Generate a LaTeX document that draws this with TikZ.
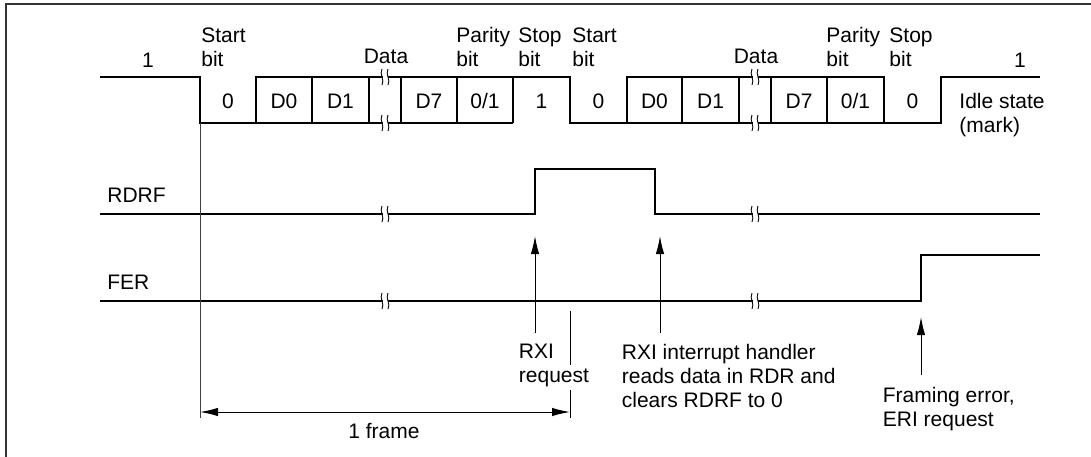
\documentclass[tikz,border=0pt]{standalone}
\usepackage{fontspec}
\setmainfont{Liberation Sans}
\usetikzlibrary{arrows.meta}

\begin{document}
\begin{tikzpicture}[x=0.5pt, y=-0.5pt,
    font=\fontsize{10.5}{12}\selectfont,
    sig/.style={line width=0.75pt},
    lbl/.style={inner sep=0pt, align=left, anchor=north west},
    bitlbl/.style={inner sep=0pt, anchor=base},
    req/.style={line width=0.5pt, -{Latex[length=9pt,width=4.2pt]}},
    brk/.pic={
      \fill[white] (-2.5,-8) rectangle (2.5,8);
      \draw[line width=0.45pt] (-3,-8) .. controls (-6,-3) and (0,3) .. (-3,8);
      \draw[line width=0.45pt] (3,-8) .. controls (0,-3) and (6,3) .. (3,8);
    }]
    \useasboundingbox (0,0) rectangle (1091,456);
    \clip (0,0) rectangle (1091,456);
    \draw[line width=0.9pt, black!80] (6,4) rectangle (1100,470);

    % received serial data
    \draw[sig] (100,77) -| (200,123) -| (256,77) -| (570,123) -| (627,77) -| (884,123) -| (941,77) -- (1040,77);
    \draw[sig] (256,123) -- (513,123) (627,123) -- (884,123);
    \foreach \x in {312,369,401,457,513,682,739,771,827}
        \draw[sig] (\x,77) -- (\x,123);
    \foreach \x/\t in {228/0, 284/D0, 340.5/D1, 429/D7, 485/{0/1}, 541.5/1,
                       598.5/0, 654.5/D0, 710.5/D1, 799/D7, 855.5/{0/1}, 912.5/0}
        \node[bitlbl] at (\x,108) {\t};

    % bit names
    \node[bitlbl] (idle1) at (148,67) {1};
    \node[lbl] (start1) at (201,27) {Start\\bit};
    \node[bitlbl] (data1) at (386,63) {Data};
    \node[lbl] (par1) at (456,27) {Parity\\bit};
    \node[lbl] (stop1) at (518,27) {Stop\\bit};
    \node[lbl] (start2) at (572,27) {Start\\bit};
    \node[bitlbl] (data2) at (756,63) {Data};
    \node[lbl] (par2) at (826,27) {Parity\\bit};
    \node[lbl] (stop2) at (889,27) {Stop\\bit};
    \node[bitlbl] (idle2) at (1020,67) {1};
    \node[lbl] (mark) at (959,93) {Idle state\\(mark)};

    % flags
    \node[bitlbl, anchor=base west] (rdrf) at (107,202) {RDRF};
    \node[bitlbl, anchor=base west] (fer) at (107,289) {FER};
    \draw[sig] (100,214) -| (535,169) -| (655,214) -- (1040,214);
    \draw[sig] (100,301) -| (921,255) -- (1040,255);

    % breaks
    \foreach \x in {385,755} {
        \pic at (\x,77) {brk};
        \pic at (\x,123) {brk};
        \pic at (\x,214) {brk};
        \pic at (\x,301) {brk};
    }

    % requests
    \node[lbl] (rxireq) at (518.5,344) {RXI\\request};
    \node[lbl] (rxihdl) at (621.5,344) {RXI interrupt handler\\reads data in RDR and\\clears RDRF to 0};
    \node[lbl] (erireq) at (882.5,387) {Framing error,\\ERI request};
    \coordinate (rxitip) at (535,236);
    \coordinate (rxibot) at (535,333);
    \coordinate (hdltip) at (660,236);
    \coordinate (hdlbot) at (660,333);
    \coordinate (eritip) at (921,317);
    \coordinate (eribot) at (921,375);
    \draw[req] (rxibot) -- (rxitip);
    \draw[req] (hdlbot) -- (hdltip);
    \draw[req] (eribot) -- (eritip);

    % one frame
    \coordinate (fl) at (200,412);
    \coordinate (fr) at (570,412);
    \draw[line width=0.5pt, black!75] (200,123) -- (200,418);
    \draw[line width=0.5pt] (570,311) -- (570,365) (570,390) -- (570,418);
    \draw[line width=0.5pt, {Latex[length=9pt,width=4.2pt]}-{Latex[length=9pt,width=4.2pt]}] (fl) -- (fr);
    \node[bitlbl] (frame) at (384,438) {1 frame};
\end{tikzpicture}
\end{document}
